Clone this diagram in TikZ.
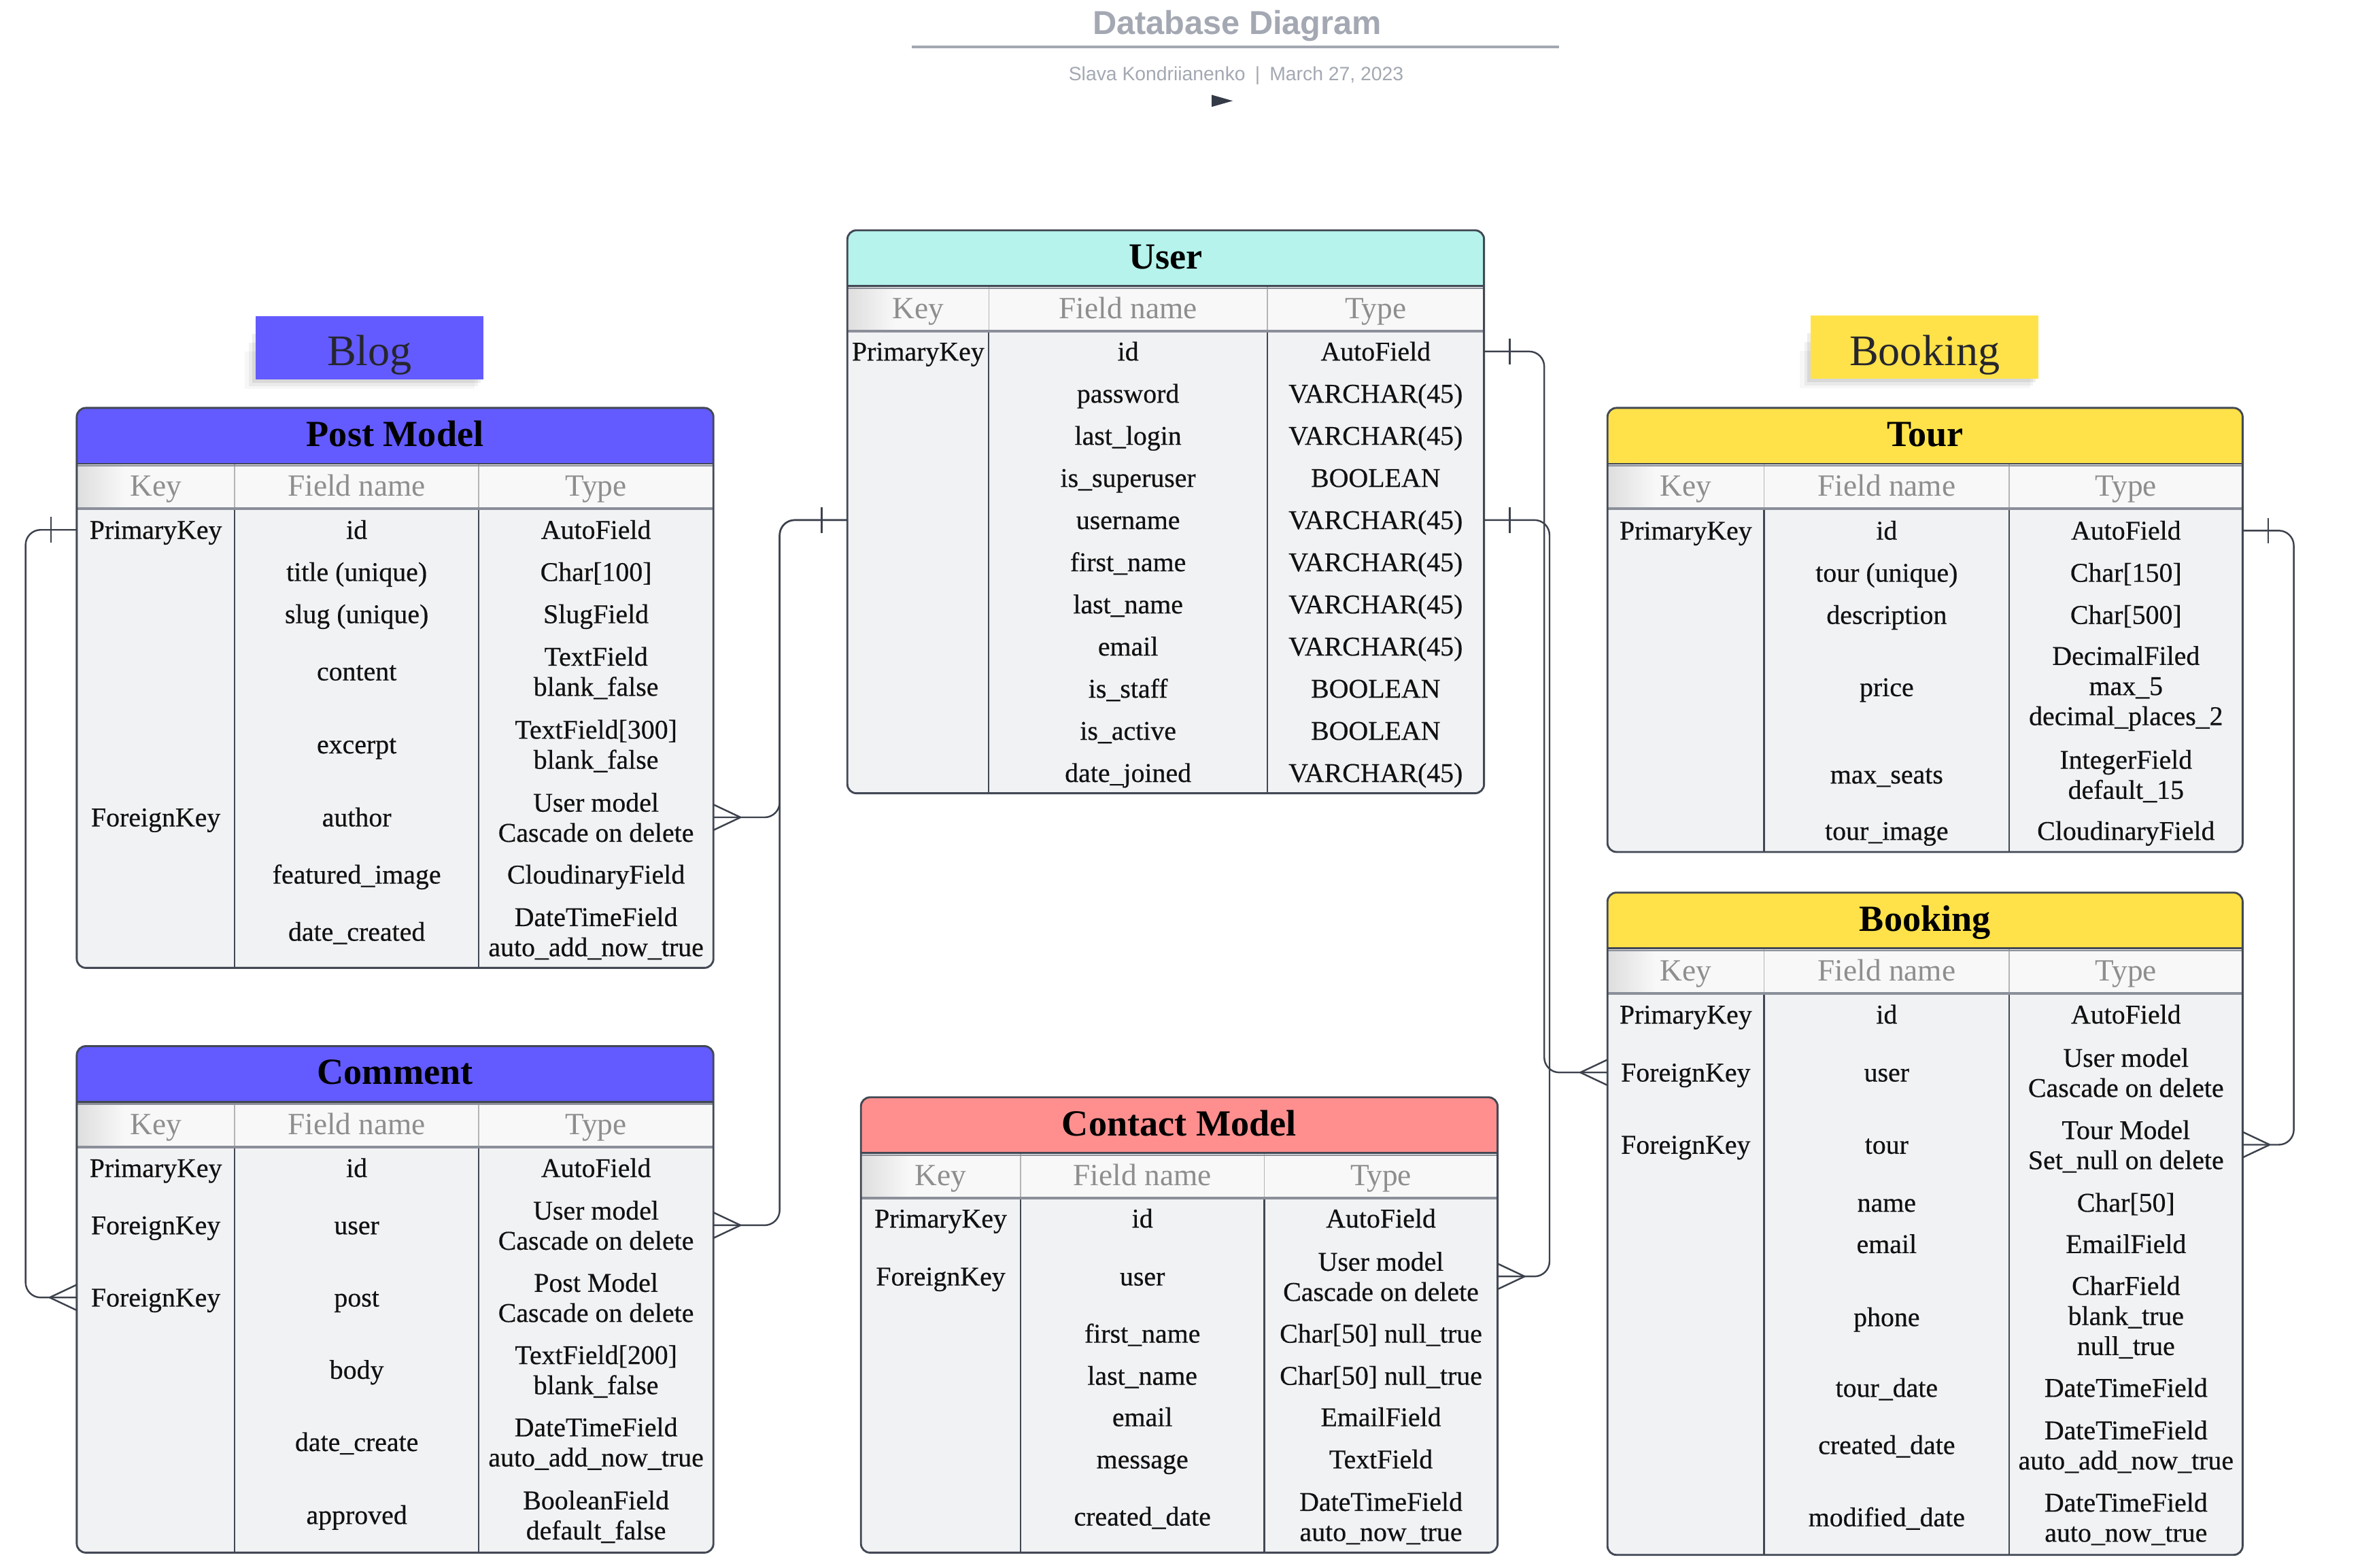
\documentclass[tikz,border=0pt]{standalone}
\usepackage{fontspec}
\setmainfont{Liberation Serif}
\newfontfamily\sansf{Liberation Sans}
\newfontfamily\cellfont{Liberation Serif}[FakeBold=0.45]
\usetikzlibrary{calc}

\definecolor{blogblue}{HTML}{635BFF}
\definecolor{userteal}{HTML}{B5F3EC}
\definecolor{bookyellow}{HTML}{FFE249}
\definecolor{contactpink}{HTML}{FF8F8F}
\definecolor{bodyfill}{HTML}{F1F2F4}
\definecolor{colfill}{HTML}{F8F8F8}
\definecolor{edgec}{HTML}{424854}
\definecolor{sepc}{HTML}{8A8F99}
\definecolor{hdrsep}{HTML}{B4B4B4}
\definecolor{headtext}{HTML}{8E8E8E}
\definecolor{celltext}{HTML}{111111}
\definecolor{titlegray}{HTML}{A3A8B2}
\definecolor{labeltext}{HTML}{26262E}
\definecolor{connc}{HTML}{3C414C}
\definecolor{playc}{HTML}{343A46}

\newcommand\topstrut{\rule{0pt}{16pt}}
\newcommand\botstrut{\rule[-4pt]{0pt}{4pt}}

\tikzset{
  cell/.style={font=\cellfont\fontsize{18}{20}\selectfont, align=center, inner sep=0pt, text=celltext,
    execute at begin node=\topstrut, execute at end node=\botstrut},
  colhd/.style={font=\fontsize{20.5}{24}\selectfont, text=headtext, inner sep=0pt, anchor=base},
  tbltitle/.style={font=\bfseries\fontsize{24.5}{28}\selectfont, text=black, inner sep=0pt, anchor=base},
  conn/.style={draw=connc, line width=1.1pt},
  route/.style={conn, rounded corners=10pt},
  grouplabel/.style={font=\fontsize{29}{34}\selectfont, text=labeltext, inner sep=0pt,
    minimum width=151pt, minimum height=42pt, text height=24pt, text depth=0pt},
}

% #1 name, #2 left, #3 top, #4 right, #5 div1, #6 div2, #7 bottom, #8 colour, #9 title
\newcommand\dbtable[9]{%
  \pgfmathsetmacro\tHB{#3+37}%
  \pgfmathsetmacro\tCB{#3+67}%
  \pgfmathsetmacro\colA{(#2+#5)/2}%
  \pgfmathsetmacro\colB{(#5+#6)/2}%
  \pgfmathsetmacro\colC{(#6+#4)/2}%
  \pgfmathsetmacro\tMid{(#2+#4)/2}%
  \pgfmathsetmacro\tW{#4-#2}%
  \pgfmathsetmacro\tH{#7-#3}%
  \fill[bodyfill, rounded corners=6pt] (#2,#3) rectangle (#4,#7);
  \fill[#8, rounded corners=6pt] (#2,#3) rectangle (#4,\tHB);
  \fill[#8] (#2,#3+10) rectangle (#4,\tHB);
  \fill[colfill] (#2,\tHB) rectangle (#4,\tCB);
  \shade[left color=black!13, right color=colfill] (#2,\tHB) rectangle (#2+32,\tCB);
  \draw[hdrsep, line width=0.8pt] (#5,\tHB) -- (#5,\tCB) (#6,\tHB) -- (#6,\tCB);
  \draw[edgec, line width=1pt] (#5,\tCB) -- (#5,#7) (#6,\tCB) -- (#6,#7);
  \draw[sepc, line width=1.6pt] (#2,\tCB) -- (#4,\tCB);
  \draw[sepc, line width=1.2pt] (#2,\tHB+1.5) -- (#4,\tHB+1.5);
  \draw[edgec, line width=1.1pt] (#2,\tHB) -- (#4,\tHB);
  \draw[edgec, line width=1.3pt, rounded corners=6pt] (#2,#3) rectangle (#4,#7);
  \node[inner sep=0pt, outer sep=0pt, minimum width=\tW pt, minimum height=\tH pt, anchor=north west] (#1) at (#2,#3) {};
  \node[tbltitle] (#1-title) at (\tMid,#3+25.5) {#9};
  \node[colhd] (#1-hk) at (\colA,\tCB-8.5) {Key};
  \node[colhd] (#1-hf) at (\colB,\tCB-8.5) {Field name};
  \node[colhd] (#1-ht) at (\colC,\tCB-8.5) {Type};
}

% [#1 shift of the type cell], #2 name, #3 y, #4 key, #5 field, #6 type
\newcommand\trow[6][0]{%
  \if\relax\detokenize{#4}\relax\else\node[cell] (#2-k) at (\colA,#3) {#4};\fi
  \node[cell] (#2) at (\colB,#3) {#5};
  \node[cell] (#2-t) at (\colC,#3+#1) {#6};
}

\newcommand\crow[2]{\draw[conn] ($#1+(#2,0)$) -- ($#1+(0,-8.5)$) ($#1+(#2,0)$) -- ($#1+(0,8.5)$);}
\newcommand\tickmark[2]{\draw[conn] ($#1+(#2,-8.5)$) -- ($#1+(#2,8.5)$);}

\newcommand\labelshadow[4]{%
  \fill[black, opacity=0.07] (#1-2,#2+12) rectangle (#3-2,#4+2);
  \fill[black, opacity=0.05] (#1-4,#2+18) rectangle (#3-4,#4+4);
  \fill[black, opacity=0.03] (#1-7,#2+24) rectangle (#3-6,#4+6);
}

\begin{document}
\begin{tikzpicture}[x=1pt, y=-1pt]
\fill[white] (0,0) rectangle (1568,1041.7);
\useasboundingbox (0,0) rectangle (1568,1041.7);

% ---------- title block ----------
\node[font=\sansf\bfseries\fontsize{22}{26}\selectfont, text=titlegray, anchor=base, inner sep=0pt] (title) at (822,22.6) {Database Diagram};
\draw[titlegray, line width=1.8pt] (605.7,31.2) -- (1035.7,31.2);
\node[font=\sansf\fontsize{12.8}{15}\selectfont, text=titlegray, anchor=base, inner sep=0pt] (subtitle) at (821.3,53.5) {Slava Kondriianenko\enspace|\enspace March 27, 2023};
\fill[playc] (805,63) -- (805,71) -- (819,67) -- cycle;

% ---------- group labels ----------
\labelshadow{169.5}{209.6}{321.5}{252.4}
\node[grouplabel, fill=blogblue] (blog) at (245.5,231) {Blog};
\labelshadow{1202.7}{209.3}{1354.7}{252}
\node[grouplabel, fill=bookyellow] (booking) at (1278.7,230.6) {Booking};

% ---------- Post Model ----------
\dbtable{P}{51}{271}{474}{156}{318}{643}{blogblue}{Post Model}
\trow{P-id}{352}{PrimaryKey}{id}{AutoField}
\trow{P-ttl}{380}{}{title (unique)}{Char[100]}
\trow{P-slug}{408}{}{slug (unique)}{SlugField}
\trow[2]{P-content}{446}{}{content}{TextField\\blank\_false}
\trow[2]{P-excerpt}{494.5}{}{excerpt}{TextField[300]\\blank\_false}
\trow[2]{P-author}{543}{ForeignKey}{author}{User model\\Cascade on delete}
\trow{P-image}{581}{}{featured\_image}{CloudinaryField}
\trow[2]{P-date}{619}{}{date\_created}{DateTimeField\\auto\_add\_now\_true}

% ---------- Comment ----------
\dbtable{C}{51}{695}{474}{156}{318}{1031.5}{blogblue}{Comment}
\trow{C-id}{776}{PrimaryKey}{id}{AutoField}
\trow[2]{C-user}{814}{ForeignKey}{user}{User model\\Cascade on delete}
\trow[2]{C-post}{862}{ForeignKey}{post}{Post Model\\Cascade on delete}
\trow[2]{C-body}{910}{}{body}{TextField[200]\\blank\_false}
\trow[2]{C-date}{958}{}{date\_create}{DateTimeField\\auto\_add\_now\_true}
\trow[2]{C-approved}{1006.5}{}{approved}{BooleanField\\default\_false}

% ---------- User ----------
\dbtable{U}{563}{153}{986}{657}{842}{527}{userteal}{User}
\trow{U-id}{233.5}{PrimaryKey}{id}{AutoField}
\trow{U-password}{261.5}{}{password}{VARCHAR(45)}
\trow{U-login}{289.5}{}{last\_login}{VARCHAR(45)}
\trow{U-super}{317.5}{}{is\_superuser}{BOOLEAN}
\trow{U-uname}{345.5}{}{username}{VARCHAR(45)}
\trow{U-first}{373.5}{}{first\_name}{VARCHAR(45)}
\trow{U-last}{401.5}{}{last\_name}{VARCHAR(45)}
\trow{U-email}{429.5}{}{email}{VARCHAR(45)}
\trow{U-staff}{457.5}{}{is\_staff}{BOOLEAN}
\trow{U-active}{485.5}{}{is\_active}{BOOLEAN}
\trow{U-joined}{513.5}{}{date\_joined}{VARCHAR(45)}

% ---------- Contact Model ----------
\dbtable{K}{572}{729}{995}{678}{840}{1031.5}{contactpink}{Contact Model}
\trow{K-id}{809.5}{PrimaryKey}{id}{AutoField}
\trow[2]{K-user}{848}{ForeignKey}{user}{User model\\Cascade on delete}
\trow{K-first}{886}{}{first\_name}{Char[50] null\_true}
\trow{K-last}{914}{}{last\_name}{Char[50] null\_true}
\trow{K-email}{941.5}{}{email}{EmailField}
\trow{K-message}{969.5}{}{message}{TextField}
\trow[2]{K-created}{1007.5}{}{created\_date}{DateTimeField\\auto\_now\_true}

% ---------- Tour ----------
\dbtable{T}{1068}{271}{1490}{1172}{1335}{566}{bookyellow}{Tour}
\trow{T-id}{352.5}{PrimaryKey}{id}{AutoField}
\trow{T-tour}{380.5}{}{tour (unique)}{Char[150]}
\trow{T-desc}{408.5}{}{description}{Char[500]}
\trow[1]{T-price}{456.5}{}{price}{DecimalFiled\\max\_5\\decimal\_places\_2}
\trow[2]{T-seats}{514.5}{}{max\_seats}{IntegerField\\default\_15}
\trow{T-image}{552}{}{tour\_image}{CloudinaryField}

% ---------- Booking ----------
\dbtable{B}{1068}{593}{1490}{1172}{1335}{1033}{bookyellow}{Booking}
\trow{B-id}{674}{PrimaryKey}{id}{AutoField}
\trow[2]{B-user}{712.5}{ForeignKey}{user}{User model\\Cascade on delete}
\trow[2]{B-tour}{760.5}{ForeignKey}{tour}{Tour Model\\Set\_null on delete}
\trow{B-name}{799}{}{name}{Char[50]}
\trow{B-email}{826.5}{}{email}{EmailField}
\trow[1]{B-phone}{875}{}{phone}{CharField\\blank\_true\\null\_true}
\trow{B-tdate}{922}{}{tour\_date}{DateTimeField}
\trow[2]{B-created}{960}{}{created\_date}{DateTimeField\\auto\_add\_now\_true}
\trow[2]{B-modified}{1008}{}{modified\_date}{DateTimeField\\auto\_now\_true}

% ---------- connectors ----------
\draw[route] (U.east |- U-id) -- ++(40,0) |- (B.west |- B-user);
\tickmark{(U.east |- U-id)}{17}
\crow{(B.west |- B-user)}{-18}

\draw[route] (U.east |- U-uname) -- ++(43.5,0) |- (K.east |- K-user);
\tickmark{(U.east |- U-uname)}{17}
\crow{(K.east |- K-user)}{18}

\draw[route] (U.west |- U-uname) -- ++(-45,0) |- (P.east |- P-author);
\draw[route] (U.west |- U-uname) -- ++(-45,0) |- (C.east |- C-user);
\tickmark{(U.west |- U-uname)}{-17}
\crow{(P.east |- P-author)}{18}
\crow{(C.east |- C-user)}{18}

\draw[route] (P.west |- P-id) -- ++(-34,0) |- (C.west |- C-post);
\tickmark{(P.west |- P-id)}{-17}
\crow{(C.west |- C-post)}{-18}

\draw[route] (T.east |- T-id) -- ++(34,0) |- (B.east |- B-tour);
\tickmark{(T.east |- T-id)}{17}
\crow{(B.east |- B-tour)}{18}
\end{tikzpicture}
\end{document}
